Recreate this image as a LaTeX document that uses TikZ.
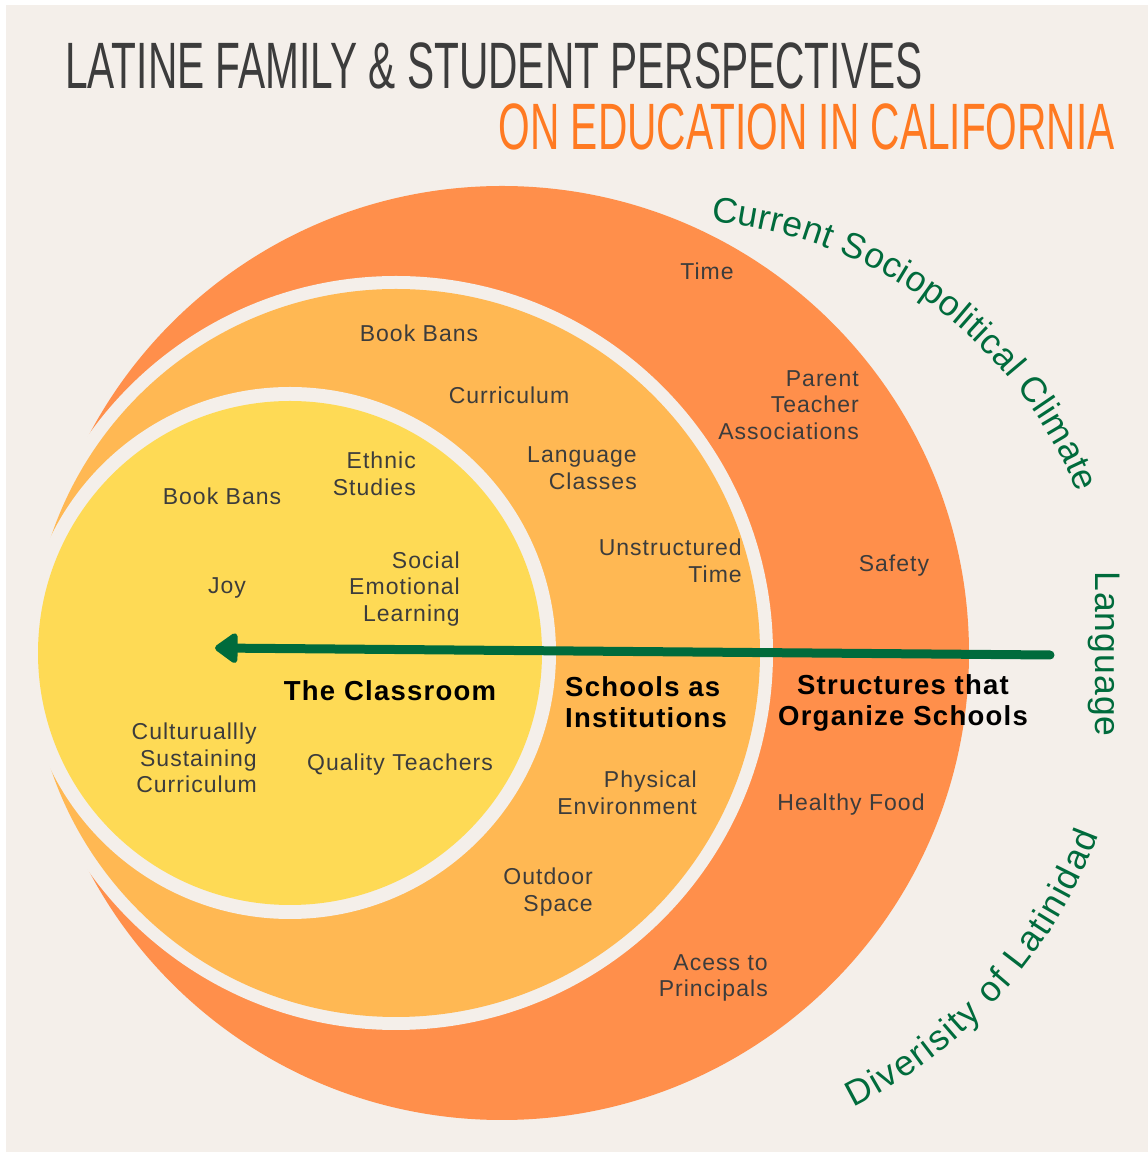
\documentclass[tikz,border=0pt]{standalone}
\usepackage{fontspec}
\usepackage{tikz}
\usetikzlibrary{positioning, arrows.meta, decorations.text}

\newfontfamily\titlefont[FakeStretch=0.62]{Liberation Sans}
\newfontfamily\labelfont[LetterSpace=4.5]{Liberation Sans}
\newfontfamily\curvefont{Liberation Sans}
\newcommand\arcfont{\curvefont\fontsize{35.5}{40}\selectfont}

\definecolor{paper}{HTML}{F4EFEA}
\definecolor{ringout}{HTML}{FF8F4B}
\definecolor{ringmid}{HTML}{FFB853}
\definecolor{ringin}{HTML}{FEDA55}
\definecolor{leaf}{HTML}{006B3C}
\definecolor{ink}{HTML}{3C3C3C}
\definecolor{titleorange}{HTML}{FF7A22}

\begin{document}
\begin{tikzpicture}[x=1pt, y=1pt,
    item/.style={text=ink, inner sep=0pt, align=center, font=\labelfont\fontsize{23}{26.7}\selectfont},
    itemr/.style={item, align=right, anchor=east},
    ringname/.style={inner sep=0pt, text=black, font=\labelfont\bfseries\fontsize{27.5}{31}\selectfont},
    heading/.style={inner sep=0pt, font=\titlefont\fontsize{65.6}{70}\selectfont}]

\fill[white] (0,0) rectangle (1148,1152);
\useasboundingbox (0,0) rectangle (1148,1152);
\fill[paper] (6,0) rectangle (1148,1147);

% titolo
\node[heading, text=ink, anchor=base west] (title) at (65,1063) {LATINE FAMILY \& STUDENT PERSPECTIVES};
\node[heading, text=titleorange, anchor=base east] (subtitle) at (1115,1002) {ON EDUCATION IN CALIFORNIA};

% cerchi
\coordinate (cout) at (502,499);
\coordinate (cmid) at (396,499);
\coordinate (cin) at (290,499);
\fill[ringout] (cout) circle[radius=467];
\fill[paper] (cmid) circle[radius=377];
\fill[ringmid] (cmid) circle[radius=364];
\fill[paper] (cin) circle[radius=266];
\fill[ringin] (cin) circle[radius=252];

% anello esterno
\node[item] (time) at (707,881) {Time};
\node[itemr] (pta) at (859,747) {Parent\\Teacher\\Associations};
\node[item] (safety) at (894,586) {Safety};
\node[item] (food) at (851,347) {Healthy Food};
\node[itemr] (principals) at (768,174) {Acess to\\Principals};
\node[ringname, align=center] (structures) at (903,449) {Structures that\\Organize Schools};

% anello intermedio
\node[item] (bansmid) at (419,819) {Book Bans};
\node[item] (curriculum) at (509,757) {Curriculum};
\node[itemr] (classes) at (637,684) {Language\\Classes};
\node[itemr] (unstructured) at (742,591) {Unstructured\\Time};
\node[ringname, align=left, anchor=west] (institutions) at (565,450) {Schools as\\Institutions};
\node[itemr] (physical) at (697,359) {Physical\\Environment};
\node[itemr] (outdoor) at (593,260) {Outdoor\\Space};

% cerchio interno
\node[itemr] (ethnic) at (416,678) {Ethnic\\Studies};
\node[item] (bansin) at (222,656) {Book Bans};
\node[itemr] (sel) at (460,563) {Social\\Emotional\\Learning};
\node[item] (joy) at (227,564) {Joy};
\node[ringname] (classroom) at (390,461) {The Classroom};
\node[itemr] (sustaining) at (257,394) {Culturuallly\\Sustaining\\Curriculum};
\node[item] (teachers) at (400,387) {Quality Teachers};

% freccia verso la classe
\coordinate (arrow start) at (1050,497);
\coordinate (arrow end) at (215,504);
\draw[leaf, line width=9pt, line cap=round, -{Triangle[round, length=25pt, width=34pt]}] (arrow start) -- (arrow end);

% scritte esterne
\node[font=\arcfont\addfontfeature{LetterSpace=3}, text=leaf, rotate=-90, inner sep=0pt] (language) at (1104,498) {Language};
\path[decorate, decoration={text along path, text={|\arcfont|Current Sociopolitical Climate}, text color=leaf, text align={fit to path}}]
    (673,496) ++(85:436) arc[start angle=85, end angle=22, radius=436];
\path[decorate, decoration={text along path, text={|\arcfont|Diverisity of Latinidad}, text color=leaf, text align={fit to path}}]
    (630,492) ++(-63.5:500) arc[start angle=-63.5, end angle=-20.5, radius=500];

\end{tikzpicture}
\end{document}
